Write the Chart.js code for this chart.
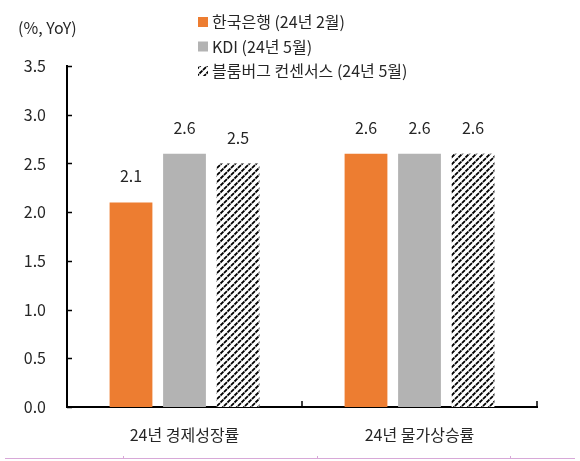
<!DOCTYPE html>
<html>
<head>
<meta charset="utf-8">
<script src="https://cdn.jsdelivr.net/npm/chart.js@4/dist/chart.umd.min.js"></script>
<style>
html,body{margin:0;padding:0;background:#fff;}
#wrap{position:relative;width:580px;height:461px;}
#bottomline{position:absolute;left:5px;top:458px;width:570px;height:0;border-top:1px solid #d8a8d8;}
.vt{position:absolute;top:456px;width:0;height:3px;border-left:1px solid #d8a8d8;}
</style>
</head>
<body>
<div id="wrap">
<canvas id="c" width="580" height="461"></canvas>
<div id="bottomline"></div>
<div class="vt" style="left:123px"></div>
<div class="vt" style="left:317px"></div>
<div class="vt" style="left:510px"></div>
</div>
<script>
const categories = ['24년 경제성장률', '24년 물가상승률'];
const seriesNames = ['한국은행 (24년 2월)', 'KDI (24년 5월)', '블룸버그 컨센서스 (24년 5월)'];
const bokValues = [2.1, 2.6];
const kdiValues = [2.6, 2.6];
const bloombergValues = [2.5, 2.6];
const yTicks = [0.0, 0.5, 1.0, 1.5, 2.0, 2.5, 3.0, 3.5];
const unitLabel = '(%, YoY)';

const FONT = '"Noto Sans CJK KR", "Noto Sans", sans-serif';
const TEXT = '#262626';

function makeHatch() {
  const s = 7;
  const c = document.createElement('canvas');
  c.width = s; c.height = s;
  const g = c.getContext('2d');
  g.fillStyle = '#fff';
  g.fillRect(0, 0, s, s);
  g.strokeStyle = '#000';
  g.lineWidth = 1.8;
  const per = s / Math.SQRT2;
  g.setLineDash([per * 0.85, per * 0.15]);
  [0, s, 2 * s].forEach(cst => {
    const d = 3 * s;
    g.beginPath();
    g.moveTo((cst - d) / 2, (cst + d) / 2);
    g.lineTo((cst + d) / 2, (cst - d) / 2);
    g.stroke();
  });
  return document.getElementById('c').getContext('2d').createPattern(c, 'repeat');
}
const hatch = makeHatch();

const colors = ['#ED7D31', '#B3B3B3', hatch];

const innerTicks = {
  id: 'innerTicks',
  afterDraw(chart) {
    const ctx = chart.ctx;
    const y = chart.scales.y, x = chart.scales.x;
    ctx.save();
    ctx.strokeStyle = '#000';
    ctx.lineWidth = 1.5;
    ctx.beginPath();
    yTicks.forEach(v => {
      const py = Math.round(y.getPixelForValue(v)) + 0.5;
      ctx.moveTo(x.left, py); ctx.lineTo(x.left + 5, py);
    });
    const step = x.getPixelForValue(1) - x.getPixelForValue(0);
    for (let i = 0; i < categories.length; i++) {
      const px = x.getPixelForValue(i) + step / 2;
      ctx.moveTo(px, y.bottom); ctx.lineTo(px, y.bottom - 6);
    }
    ctx.stroke();
    ctx.restore();
  }
};

const valueLabels = {
  id: 'valueLabels',
  afterDatasetsDraw(chart) {
    const ctx = chart.ctx;
    ctx.save();
    ctx.font = '16px ' + FONT;
    ctx.fillStyle = TEXT;
    ctx.textAlign = 'center';
    ctx.textBaseline = 'middle';
    chart.data.datasets.forEach((ds, di) => {
      chart.getDatasetMeta(di).data.forEach((bar, i) => {
        ctx.fillText(ds.data[i].toFixed(1), bar.x, bar.y - 26);
      });
    });
    ctx.restore();
  }
};

const customLegend = {
  id: 'customLegend',
  afterDraw(chart) {
    const ctx = chart.ctx;
    ctx.save();
    ctx.font = '16px ' + FONT;
    ctx.fillStyle = TEXT;
    ctx.textBaseline = 'middle';
    ctx.fillText(unitLabel, 18, 28);
    const lx = 198, ly0 = 22, dy = 24.5;
    seriesNames.forEach((name, i) => {
      const cy = ly0 + i * dy;
      ctx.fillStyle = colors[i];
      ctx.fillRect(lx, cy - 5, 10, 10);
      ctx.fillStyle = TEXT;
      ctx.fillText(name, lx + 14, cy);
    });
    ctx.restore();
  }
};

new Chart(document.getElementById('c'), {
  type: 'bar',
  data: {
    labels: categories,
    datasets: [
      { label: seriesNames[0], data: bokValues, backgroundColor: colors[0] },
      { label: seriesNames[1], data: kdiValues, backgroundColor: colors[1] },
      { label: seriesNames[2], data: bloombergValues, backgroundColor: colors[2] }
    ]
  },
  options: {
    responsive: false,
    animation: false,
    devicePixelRatio: 1,
    layout: { padding: { left: 0, right: 43, top: 66, bottom: 0 } },
    datasets: { bar: { categoryPercentage: 0.683, barPercentage: 0.8 } },
    plugins: { legend: { display: false }, tooltip: { enabled: false } },
    scales: {
      x: {
        grid: { display: false, drawTicks: false },
        border: { display: true, color: '#000', width: 2 },
        ticks: { color: TEXT, font: { family: FONT, size: 16 }, padding: 18 },
        afterFit(s) { s.height = 54; }
      },
      y: {
        min: 0, max: 3.5,
        grid: { display: false, drawTicks: false },
        border: { display: true, color: '#000', width: 2 },
        afterBuildTicks(s) { s.ticks = yTicks.map(v => ({ value: v })); },
        ticks: { color: TEXT, font: { family: FONT, size: 16 }, padding: 21,
          callback: v => Number(v).toFixed(1) },
        afterFit(s) { s.width = 67; }
      }
    }
  },
  plugins: [innerTicks, valueLabels, customLegend]
});
</script>
</body>
</html>
